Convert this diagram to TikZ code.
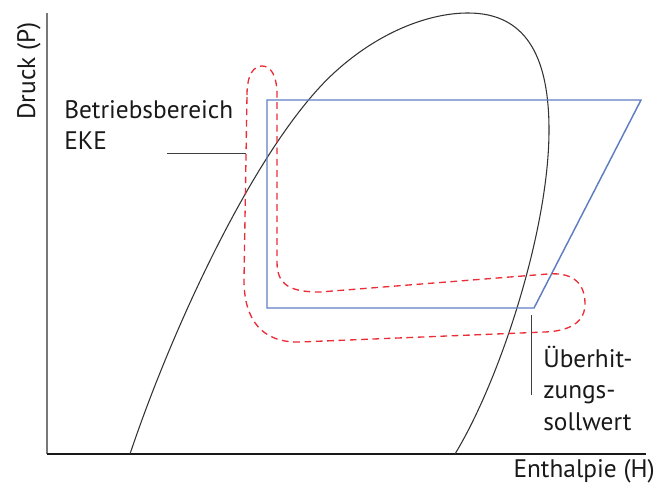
\documentclass[tikz,border=0pt]{standalone}
\usepackage{fontspec}
\setmainfont{PT Sans}
\usepackage{tikz}
\usetikzlibrary{positioning, calc}
\definecolor{boxblue}{RGB}{95,125,195}
\definecolor{ekered}{RGB}{235,45,55}
\definecolor{axisgray}{RGB}{120,120,120}
\tikzset{
  axisline/.style={line width=1.1pt, black!90},
  domeline/.style={line width=0.8pt, black!80},
  opbox/.style={line width=1.1pt, draw=boxblue},
  ekeloop/.style={line width=1pt, draw=ekered, dash pattern=on 5pt off 3.5pt},
  leader/.style={line width=0.75pt, black!75},
  lbl/.style={inner sep=0pt, font=\fontsize{19}{23.5}\selectfont, text=black!90},
}
\begin{document}
\begin{tikzpicture}[x=0.75pt, y=-0.75pt]
  \useasboundingbox (0,0) rectangle (670,484);
  % axes
  \coordinate (origin) at (47,454);
  \coordinate (ptop) at (47,13);
  \coordinate (hend) at (646,454);
  \draw[axisline, axisgray, line width=1.4pt] (ptop) -- (origin);
  \draw[axisline] (origin) -- (hend);
  % saturation dome
  \draw[domeline] (130,454) .. controls (175,320) and (260,140) .. (335,72)
    .. controls (380,31) and (430,13) .. (468,13)
    .. controls (525,13) and (549,55) .. (549,130)
    .. controls (549,230) and (500,380) .. (455,454);
  % operating range of the compressor
  \draw[opbox] (267,100) -- (641,100) -- (534,308) -- (267,308) -- cycle;
  % EKE range
  \draw[ekeloop] (247,95) .. controls (247,74) and (254,66) .. (262,66)
    .. controls (270,66) and (277,74) .. (277,95)
    -- (277,262) .. controls (277,285) and (290,292) .. (320,292)
    -- (548,274) .. controls (575,272) and (585,285) .. (585,304)
    .. controls (585,322) and (570,331) .. (545,332)
    -- (300,342) .. controls (262,343) and (244,320) .. (244,280) -- cycle;
  % labels
  \node[lbl, rotate=90, anchor=base] (plab) at (35,71) {Druck (P)};
  \node[lbl, anchor=base east] (hlab) at (655,477) {Enthalpie (H)};
  \node[lbl, anchor=north west, align=left] (eke) at (64,100) {Betriebsbereich\\EKE};
  \node[lbl, anchor=north west, align=left] (sh) at (543,346) {Überhit-\\zungs-\\sollwert};
  % leaders
  \coordinate (ekeA) at (167,154);
  \coordinate (ekeB) at (246,154);
  \coordinate (shA) at (531,315);
  \coordinate (shB) at (531,395);
  \draw[leader] (ekeA) -- (ekeB);
  \draw[leader] (shA) -- (shB);
\end{tikzpicture}
\end{document}
